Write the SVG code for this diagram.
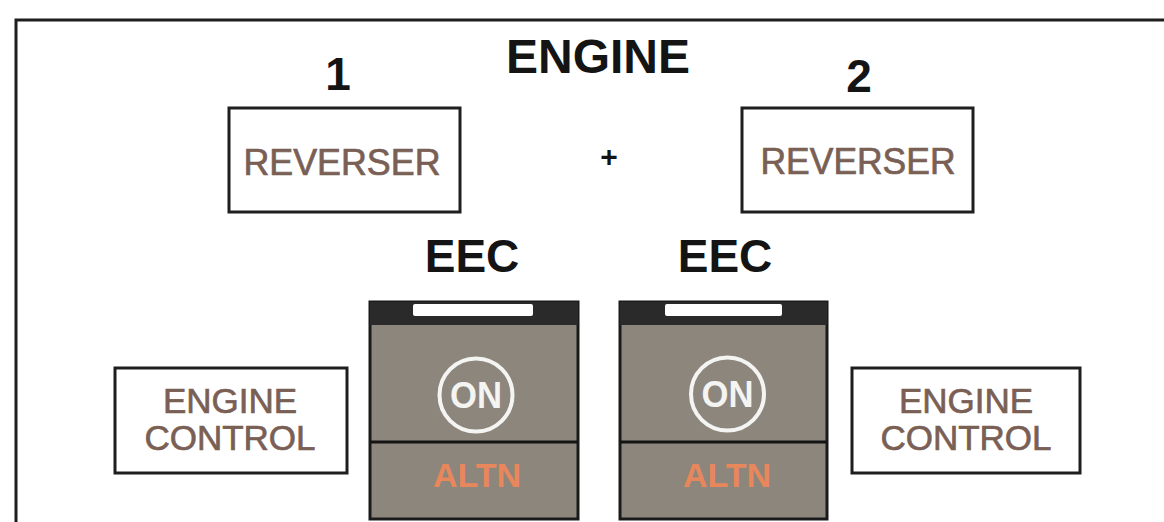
<svg xmlns="http://www.w3.org/2000/svg" width="1164" height="522" viewBox="0 0 1164 522">
<style>
.frame{fill:none;stroke:#1e1e1e;stroke-width:3}
.box{fill:#ffffff;stroke:#1e1e1e;stroke-width:3}
.title{font-family:"Liberation Sans",Arial,sans-serif;font-weight:bold;fill:#141414;text-anchor:middle}
.lbl{font-family:"Liberation Sans",Arial,sans-serif;fill:#7a5f55;stroke:#7a5f55;stroke-width:0.7;text-anchor:middle}
.sw{fill:#8d867d;stroke:#1a1a1a;stroke-width:3}
.hdr{fill:#2a2a2a}
.bar{fill:#ffffff}
.div{stroke:#141414;stroke-width:3}
.ring{fill:none;stroke:#f4f4f2;stroke-width:4}
.on{font-family:"Liberation Sans",Arial,sans-serif;font-weight:bold;fill:#f4f4f2;text-anchor:middle}
.altn{font-family:"Liberation Sans",Arial,sans-serif;font-weight:bold;fill:#e8875c;text-anchor:middle}
</style>
<rect width="1164" height="522" fill="#ffffff"/>
<path class="frame" d="M16,522 V20 H1164"/>
<g id="titles">
<text class="title" x="598" y="73" font-size="48">ENGINE</text>
<text class="title" x="338" y="90" font-size="46">1</text>
<text class="title" x="859" y="92" font-size="46">2</text>
<text class="title" x="472" y="272" font-size="46">EEC</text>
<text class="title" x="725" y="272" font-size="46">EEC</text>
<text class="title" x="609" y="167" font-size="30">+</text>
</g>
<g id="reverser1">
<rect class="box" x="229" y="108" width="231" height="104"/>
<text class="lbl" x="342" y="175" font-size="36" textLength="197" lengthAdjust="spacingAndGlyphs">REVERSER</text>
</g>
<g id="reverser2">
<rect class="box" x="742" y="108" width="231" height="104"/>
<text class="lbl" x="858" y="174" font-size="36" textLength="195" lengthAdjust="spacingAndGlyphs">REVERSER</text>
</g>
<g id="engine-control1">
<rect class="box" x="115" y="368" width="232" height="105"/>
<text class="lbl" x="230" y="413" font-size="35">ENGINE</text>
<text class="lbl" x="230" y="450" font-size="35">CONTROL</text>
</g>
<g id="engine-control2">
<rect class="box" x="852" y="368" width="228" height="105"/>
<text class="lbl" x="966" y="413" font-size="35">ENGINE</text>
<text class="lbl" x="966" y="450" font-size="35">CONTROL</text>
</g>
<g id="eec1">
<rect class="sw" x="370" y="302" width="208" height="217"/>
<rect class="hdr" x="370" y="302" width="208" height="23"/>
<rect class="bar" x="413" y="304" width="120" height="12" rx="2"/>
<line class="div" x1="370" y1="442" x2="578" y2="442"/>
<circle class="ring" cx="476" cy="395" r="36.5"/>
<text class="on" x="476" y="408" font-size="36" textLength="52" lengthAdjust="spacingAndGlyphs">ON</text>
<text class="altn" x="477" y="487" font-size="34">ALTN</text>
</g>
<g id="eec2">
<rect class="sw" x="620" y="302" width="207" height="217"/>
<rect class="hdr" x="620" y="302" width="207" height="23"/>
<rect class="bar" x="665" y="304" width="117" height="12" rx="2"/>
<line class="div" x1="620" y1="442" x2="827" y2="442"/>
<circle class="ring" cx="727.5" cy="394" r="36.5"/>
<text class="on" x="727.5" y="407" font-size="36" textLength="52" lengthAdjust="spacingAndGlyphs">ON</text>
<text class="altn" x="727" y="487" font-size="34">ALTN</text>
</g>
<g id="connectors"/>
</svg>
